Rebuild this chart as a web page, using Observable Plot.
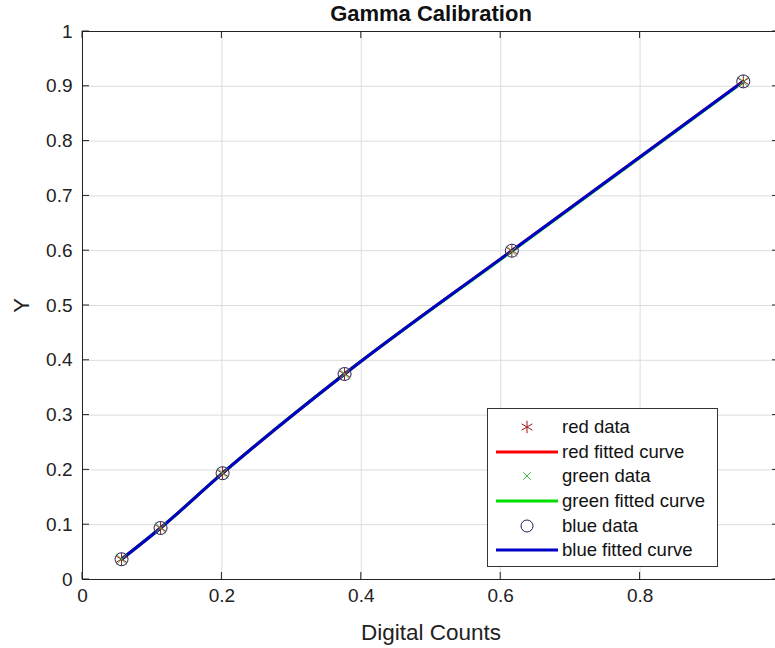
<!DOCTYPE html>
<html>
<head>
<meta charset="utf-8">
<script src="https://cdn.jsdelivr.net/npm/d3@7"></script>
<script src="https://cdn.jsdelivr.net/npm/@observablehq/plot@0.6"></script>
<style>
  html, body { margin: 0; padding: 0; background: #fff; overflow: hidden; }
  #wrap { position: relative; width: 775px; height: 648px; font-family: "Liberation Sans", Arial, sans-serif; }
  #legend { position: absolute; left: 487px; top: 408px; width: 231px; height: 159px; border: 1px solid #333; background: #fff; box-sizing: border-box; padding-top: 6px; }
  .row { display: flex; align-items: center; height: 24.6px; font-size: 18.5px; color: #111; white-space: nowrap; }
  .row svg { width: 68px; height: 20px; margin-left: 6px; margin-right: 0px; flex: none; }
</style>
</head>
<body>
<div id="wrap"></div>
<script>
const title = "Gamma Calibration";
const xLabel = "Digital Counts";
const yLabel = "Y";
const xTicks = [0, 0.2, 0.4, 0.6, 0.8, 1];
const yTicks = [0, 0.1, 0.2, 0.3, 0.4, 0.5, 0.6, 0.7, 0.8, 0.9, 1];

const digitalCounts = [0.056, 0.112, 0.201, 0.376, 0.616, 0.948];
const redY   = [0.037, 0.094, 0.194, 0.375, 0.600, 0.909];
const greenY = [0.037, 0.094, 0.194, 0.375, 0.599, 0.908];
const blueY  = [0.037, 0.094, 0.194, 0.375, 0.600, 0.909];

const seriesNames = ["red", "green", "blue"];
const seriesColors = { red: "#ff0000", green: "#00e000", blue: "#0000c8" };
const markerColors = { red: "#a01818", green: "#44bb44", blue: "#22225a" };
const seriesY = { red: redY, green: greenY, blue: blueY };

const rows = seriesNames.flatMap(s => digitalCounts.map((x, i) => ({ series: s, x, y: seriesY[s][i] })));
const sel = s => rows.filter(d => d.series === s);

const font = '"Liberation Sans", Arial, sans-serif';

const chart = Plot.plot({
  width: 775,
  height: 648,
  marginLeft: 82,
  marginRight: -4,
  marginTop: 31,
  marginBottom: 69,
  style: { fontFamily: font, fontSize: "18px", color: "#222", background: "#fff", overflow: "hidden" },
  x: { domain: [0, 1] },
  y: { domain: [0, 1] },
  marks: [
    Plot.gridX(xTicks, { stroke: "#dcdcdc", strokeOpacity: 1 }),
    Plot.gridY(yTicks, { stroke: "#dcdcdc", strokeOpacity: 1 }),
    Plot.axisX(xTicks, { anchor: "bottom", tickSize: 0, tickPadding: 9, tickFormat: d => String(d), fontSize: 19, label: xLabel, labelAnchor: "center", labelArrow: "none", labelOffset: 60 }),
    Plot.axisY(yTicks, { anchor: "left", tickSize: 0, tickPadding: 10, tickFormat: d => String(d), fontSize: 19, label: yLabel, labelAnchor: "center", labelArrow: "none", labelOffset: 69 }),
    Plot.frame({ stroke: "#222", strokeWidth: 1 }),
    ...seriesNames.map(s => Plot.line(sel(s), { x: "x", y: "y", stroke: seriesColors[s], strokeWidth: 3, curve: "monotone-x" })),
    Plot.dot(sel("red"), { x: "x", y: "y", symbol: "asterisk", r: 6, stroke: markerColors.red, strokeWidth: 1 }),
    Plot.dot(sel("green"), { x: "x", y: "y", symbol: "times", r: 5, stroke: markerColors.green, strokeWidth: 1 }),
    Plot.dot(sel("blue"), { x: "x", y: "y", symbol: "circle", r: 6.5, stroke: markerColors.blue, fill: "none", strokeWidth: 1 }),
    Plot.text([title], { frameAnchor: "top", dy: -26, text: d => d, fontWeight: "bold", fontSize: 22, fill: "#111" })
  ]
});

const wrap = document.getElementById("wrap");
wrap.appendChild(chart);

const svg = d3.select(chart);
svg.selectAll("text").filter(function() { return this.textContent === yLabel; }).attr("font-size", 22);
svg.selectAll("text").filter(function() { return this.textContent === xLabel; }).attr("font-size", 22.5);
// inward ticks (MATLAB style)
const xs = chart.scale("x"), ys = chart.scale("y");
const g = svg.append("g").attr("stroke", "#222").attr("stroke-width", 1);
xTicks.forEach(t => {
  const px = xs.apply(t);
  g.append("line").attr("x1", px).attr("x2", px).attr("y1", ys.apply(0)).attr("y2", ys.apply(0) - 7);
  g.append("line").attr("x1", px).attr("x2", px).attr("y1", ys.apply(1)).attr("y2", ys.apply(1) + 7);
});
yTicks.forEach(t => {
  const py = ys.apply(t);
  g.append("line").attr("x1", xs.apply(0)).attr("x2", xs.apply(0) + 7).attr("y1", py).attr("y2", py);
  g.append("line").attr("x1", xs.apply(1)).attr("x2", xs.apply(1) - 7).attr("y1", py).attr("y2", py);
});

// legend
const legend = document.createElement("div");
legend.id = "legend";
const items = [
  { label: "red data", kind: "asterisk", color: markerColors.red },
  { label: "red fitted curve", kind: "line", color: seriesColors.red },
  { label: "green data", kind: "times", color: markerColors.green },
  { label: "green fitted curve", kind: "line", color: seriesColors.green },
  { label: "blue data", kind: "circle", color: markerColors.blue },
  { label: "blue fitted curve", kind: "line", color: seriesColors.blue }
];
items.forEach(it => {
  const row = document.createElement("div");
  row.className = "row";
  let sw;
  if (it.kind === "line") sw = `<line x1="2" x2="64" y1="10" y2="10" stroke="${it.color}" stroke-width="3"/>`;
  else if (it.kind === "circle") sw = `<circle cx="33" cy="10" r="6" fill="none" stroke="${it.color}"/>`;
  else {
    const sym = it.kind === "asterisk" ? d3.symbolAsterisk : d3.symbolTimes;
    const p = d3.symbol(sym, it.kind === "asterisk" ? 110 : 40)();
    sw = `<path transform="translate(33,10)" d="${p}" fill="none" stroke="${it.color}"/>`;
  }
  row.innerHTML = `<svg viewBox="0 0 68 20">${sw}</svg><span>${it.label}</span>`;
  legend.appendChild(row);
});
wrap.appendChild(legend);
</script>
</body>
</html>
